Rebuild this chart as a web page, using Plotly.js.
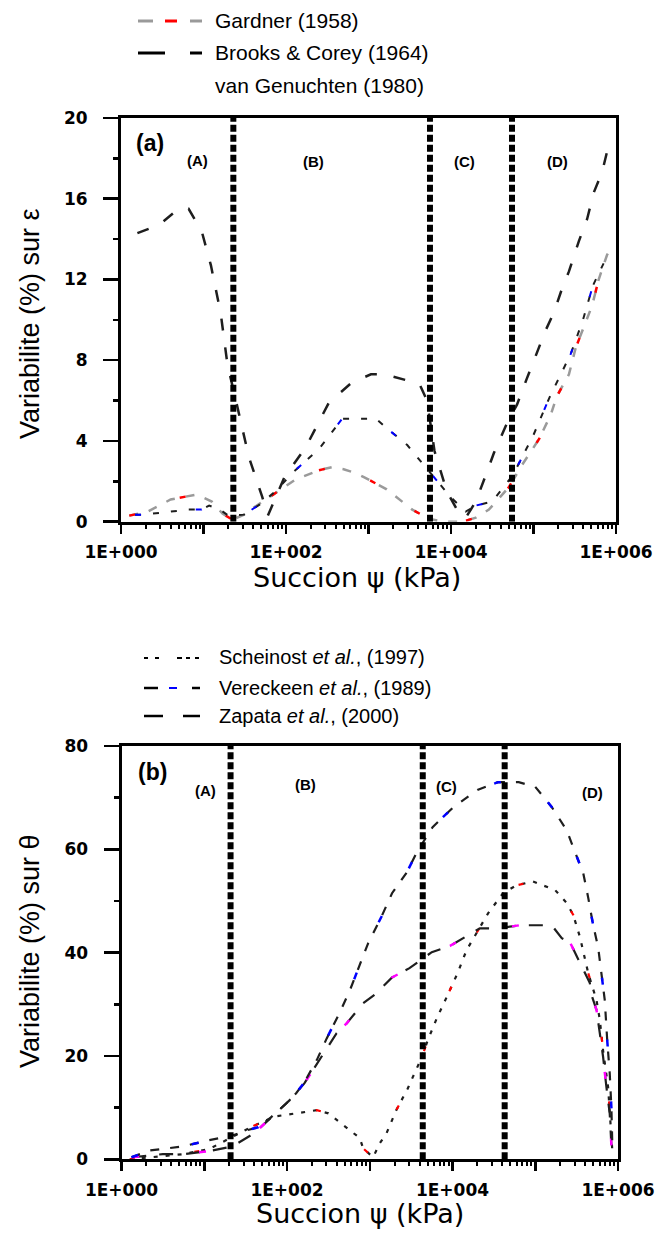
<!DOCTYPE html>
<html><head><meta charset="utf-8">
<script src="https://cdn.plot.ly/plotly-3.0.1.min.js"></script>
<style>html,body{margin:0;padding:0;background:#fff}#chart{width:657px;height:1234px}</style>
</head><body><div id="chart"></div>
<script>
// ---------- Panel (a): variability on e ----------
const gardnerX = [1.26, 2.1, 4.0, 8.3, 12.6, 17, 22.4, 31, 39, 68, 132, 251, 363, 500, 708, 891, 1660, 3390, 5370, 7940, 13800, 20000, 28800, 50100, 72400, 117000, 162000, 191000, 269000, 324000, 407000, 513000, 617000, 776000, 851000];
const gardnerY = [0.3, 0.5, 1.1, 1.35, 1.0, 0.4, 0.1, 0.35, 0.65, 1.3, 2.1, 2.55, 2.7, 2.6, 2.4, 2.2, 1.6, 0.6, 0.15, 0.0, 0.0, 0.2, 0.6, 1.7, 2.8, 4.1, 5.3, 6.2, 7.3, 8.6, 9.6, 10.7, 12.0, 13.2, 13.5];

const brooksX = [1.58, 2.88, 5.0, 6.6, 9.5, 12.3, 16.2, 19.5, 25.7, 35.5, 51.3, 60.3, 95.5, 174, 331, 631, 1070, 1550, 2950, 4170, 5130, 6310, 8910, 12600, 15100, 20000, 27500, 33100, 47900, 63100, 83200, 107000, 141000, 178000, 224000, 269000, 355000, 447000, 537000, 676000, 832000];
const brooksY = [14.3, 14.7, 15.5, 15.5, 14.4, 12.7, 10.3, 7.8, 5.7, 3.2, 1.25, 0.3, 2.2, 3.7, 5.9, 6.9, 7.3, 7.3, 7.0, 6.8, 6.0, 3.5, 1.5, 0.4, 0.2, 1.0, 2.5, 3.4, 4.9, 5.8, 7.1, 8.2, 9.5, 10.4, 11.6, 12.4, 13.9, 15.0, 16.3, 17.3, 18.8];

const vanGX = [1.48, 1.9, 4.0, 6.6, 9.5, 11.7, 15.8, 20, 31, 50, 74, 126, 251, 479, 1000, 1230, 1590, 2950, 3890, 6610, 10000, 15100, 20000, 31600, 56200, 100000, 158000, 282000, 398000, 525000, 708000];
const vanGY = [0.35, 0.35, 0.5, 0.6, 0.6, 0.8, 0.6, 0.3, 0.35, 0.9, 1.5, 2.5, 3.6, 5.1, 5.1, 5.1, 4.7, 3.8, 3.2, 2.1, 1.2, 0.5, 0.8, 1.0, 2.3, 4.3, 6.2, 8.3, 10.0, 11.7, 12.8];

const zoneLimitsA = [23, 5560, 54900];
const zoneTopA = 20;

// ---------- Panel (b): variability on theta ----------
const scheinostX = [1.26, 2.5, 5.6, 11.5, 21.9, 39.8, 72.4, 158, 229, 316, 398, 525, 759, 832, 1100, 1320, 1590, 2090, 2880, 3310, 4270, 5010, 6460, 8510, 11500, 14800, 26900, 40700, 58900, 93300, 174000, 240000, 288000, 347000, 398000, 437000, 550000, 603000, 661000, 759000, 851000];
const scheinostY = [0, 0.5, 1, 2, 4.3, 6.5, 8.3, 9.2, 9.5, 8.9, 7.6, 6.2, 4.1, 2.1, 0.4, 3.1, 5.0, 9.5, 13.7, 15.9, 19.8, 23, 27.3, 31.4, 36, 40.5, 47.6, 51.5, 53, 53.8, 52.1, 49.6, 47.3, 43, 38.5, 36, 30.8, 27, 21, 14, 2];

const vereckeenX = [1.32, 2.2, 5.5, 11.5, 21.9, 32.4, 44.7, 61.7, 97.7, 129, 162, 229, 302, 437, 575, 955, 1380, 1860, 2820, 3720, 5750, 10000, 20000, 35500, 63100, 100000, 158000, 240000, 302000, 380000, 437000, 501000, 575000, 631000, 692000, 741000, 794000, 832000, 851000];
const vereckeenY = [0.4, 1.7, 2.5, 3.7, 4.6, 5.6, 6.2, 7.9, 10.8, 12.8, 14.9, 19.2, 23.4, 28.5, 32.7, 41.8, 46.9, 51.5, 55.6, 59.5, 64.3, 68, 71.5, 73.0, 73.0, 72.1, 68.2, 63.7, 59.5, 55.4, 50.6, 45.3, 41.1, 36, 30.8, 23, 16.7, 10, 3.7];

const zapataX = [1.35, 3.16, 5.6, 11.5, 21.9, 39.8, 67.6, 107, 162, 398, 525, 832, 1150, 1860, 3020, 5620, 9330, 21400, 35500, 64600, 158000, 209000, 263000, 398000, 457000, 479000, 550000, 603000, 661000, 724000, 794000, 832000];
const zapataY = [0.4, 1.0, 1.0, 1.6, 2.5, 5, 8.4, 11.4, 14.7, 24.4, 26.3, 30.2, 31.9, 35.2, 37, 40.1, 41.3, 44.7, 44.7, 45.3, 45.3, 42.8, 42, 36, 34.1, 31.8, 28.9, 24.4, 19.8, 14, 8.9, 2.7];

const zoneLimitsB = [20.8, 4370, 42700];
const zoneTopB = 80;

// tick labels
const xTickVals = [1, 10, 100, 1000, 10000, 100000, 1000000];
const xTickText = ['1E+000', '', '1E+002', '', '1E+004', '', '1E+006'];
const zoneNames = ['(A)', '(B)', '(C)', '(D)'];

// ---------------------------------------------
const DARK = '#1e1e1e';
const traces = [];
function line(x, y, xa, ya, color, width, dash) {
  traces.push({x: x, y: y, xaxis: xa, yaxis: ya, type: 'scatter', mode: 'lines',
    line: {color: color, width: width, dash: dash}, showlegend: false, hoverinfo: 'skip'});
}
// panel a
line(gardnerX, gardnerY, 'x', 'y', '#9a9a9a', 2.5, '9px,11px');
line(gardnerX, gardnerY, 'x', 'y', '#ff0000', 2.5, '6px,48px');
line(vanGX, vanGY, 'x', 'y', DARK, 2, '6px,12px');
line(vanGX, vanGY, 'x', 'y', '#0000ff', 2, '6px,55px');
line(brooksX, brooksY, 'x', 'y', DARK, 2.5, '12px,17px');
zoneLimitsA.forEach(v => line([v, v], [0, zoneTopA], 'x', 'y', '#000', 6, '7px,3px'));
// panel b
line(scheinostX, scheinostY, 'x2', 'y2', DARK, 2.2, '4px,8px');
line(scheinostX, scheinostY, 'x2', 'y2', '#ff0000', 2.2, '5px,60px');
line(zapataX, zapataY, 'x2', 'y2', DARK, 2.2, '14px,13px');
line(zapataX, zapataY, 'x2', 'y2', '#ff00ff', 2.5, '7px,60px');
line(vereckeenX, vereckeenY, 'x2', 'y2', DARK, 2.2, '9px,11px');
line(vereckeenX, vereckeenY, 'x2', 'y2', '#0000ff', 2.5, '7px,55px');
zoneLimitsB.forEach(v => line([v, v], [0, zoneTopB], 'x2', 'y2', '#000', 6, '7px,3px'));

const minorX = [];
for (let k = 0; k < 6; k++) for (let d = 2; d <= 9; d++) minorX.push(d * Math.pow(10, k));

const W = 657, H = 1234;
const px = v => v / W, py = v => 1 - v / H;
const tickFont = {family: 'DejaVu Sans', size: 17, color: '#000', weight: 'bold'};

function xAxis(domain, anchor) {
  return {type: 'log', domain: domain, anchor: anchor, range: [0, 6], tickmode: 'array',
    tickvals: xTickVals, ticktext: xTickText, ticks: 'outside', ticklen: 9, tickwidth: 2.5,
    tickcolor: '#000', showline: true, linewidth: 3, linecolor: '#000', mirror: true,
    showgrid: false, zeroline: false, tickfont: tickFont, ticklabelstandoff: 4,
    minor: {tickvals: minorX, ticks: 'outside', ticklen: 4, tickwidth: 2, tickcolor: '#000', showgrid: false},
    automargin: false, fixedrange: true};
}
function yAxis(domain, anchor, top, dt, mdt) {
  return {domain: domain, anchor: anchor, range: [0, top], dtick: dt, tick0: 0, ticks: 'outside',
    ticklen: 15, tickwidth: 2.5, tickcolor: '#000', showline: true, linewidth: 3, linecolor: '#000',
    mirror: true, showgrid: false, zeroline: false, tickfont: tickFont, ticklabelstandoff: 12,
    minor: {dtick: mdt, tick0: 0, ticks: 'outside', ticklen: 5, tickwidth: 2.5, tickcolor: '#000', showgrid: false},
    automargin: false, fixedrange: true};
}

const ann = [];
function txt(t, x, y, size, opts) {
  ann.push(Object.assign({text: t, x: px(x), y: py(y), xref: 'paper', yref: 'paper', showarrow: false,
    font: {family: 'Liberation Sans', size: size, color: '#000'}, xanchor: 'center', yanchor: 'middle'}, opts || {}));
}
// panel labels and zone labels
txt('<b>(a)</b>', 150, 143, 23);
[[197, 160], [313, 161], [464, 162], [557, 161]].forEach((p, i) => txt('<b>' + zoneNames[i] + '</b>', p[0], p[1], 15));
txt('<b>(b)</b>', 152, 772, 23);
[[205, 790], [305, 784], [446, 786], [592, 793]].forEach((p, i) => txt('<b>' + zoneNames[i] + '</b>', p[0], p[1], 15));
// axis titles
txt('Variabilite (%) sur ε', 30, 324, 27, {textangle: -90});
txt('Variabilite (%) sur θ', 30, 951, 27, {textangle: -90});
txt('Succion ψ (kPa)', 357, 577, 27, {font: {family: 'DejaVu Sans', size: 27, color: '#000'}});
txt('Succion ψ (kPa)', 360, 1213, 27, {font: {family: 'DejaVu Sans', size: 27, color: '#000'}});
// legends (text)
const legA = ['Gardner (1958)', 'Brooks &amp; Corey (1964)', 'van Genuchten (1980)'];
const legAy = [21, 52, 85];
legA.forEach((t, i) => txt(t, 213, legAy[i], 21, {xanchor: 'left'}));
const legB = ['Scheinost <i>et al.</i>, (1997)', 'Vereckeen <i>et al.</i>, (1989)', 'Zapata <i>et al.</i>, (2000)'];
const legBy = [657, 688, 716];
legB.forEach((t, i) => txt(t, 217, legBy[i], 20, {xanchor: 'left'}));

const shapes = [];
function seg(x0, x1, y, color, w) {
  shapes.push({type: 'line', xref: 'paper', yref: 'paper', x0: px(x0), x1: px(x1), y0: py(y), y1: py(y),
    line: {color: color, width: w}});
}
// legend samples (a)
seg(138, 153, 21, '#9a9a9a', 3); seg(165, 177, 21, '#ff0000', 3); seg(190, 202, 21, '#9a9a9a', 3);
seg(138, 165, 53, '#000', 3); seg(190, 202, 53, '#000', 3);
// legend samples (b)
[[144, 148], [155, 159], [177, 182], [186, 190], [195, 199]].forEach(s => seg(s[0], s[1], 658, '#000', 2));
seg(144, 158, 688, '#000', 2.5); seg(169, 177, 688, '#0000ff', 2); seg(192, 200, 688, '#000', 2.5);
seg(144, 163, 716, '#000', 2.5); seg(183, 200, 716, '#000', 2.5);

const layout = {
  width: W, height: H, margin: {l: 0, r: 0, t: 0, b: 0}, paper_bgcolor: '#fff', plot_bgcolor: '#fff',
  showlegend: false,
  font: {family: 'Liberation Sans', color: '#000'},
  xaxis: xAxis([121 / W, 616 / W], 'y'),
  yaxis: yAxis([1 - 521.7 / H, 1 - 118 / H], 'x', 20, 4, 2),
  xaxis2: xAxis([121.5 / W, 618 / W], 'y2'),
  yaxis2: yAxis([1 - 1159.3 / H, 1 - 746 / H], 'x2', 80, 20, 10),
  annotations: ann, shapes: shapes
};
Plotly.newPlot('chart', traces, layout, {staticPlot: true, displayModeBar: false});
</script></body></html>
